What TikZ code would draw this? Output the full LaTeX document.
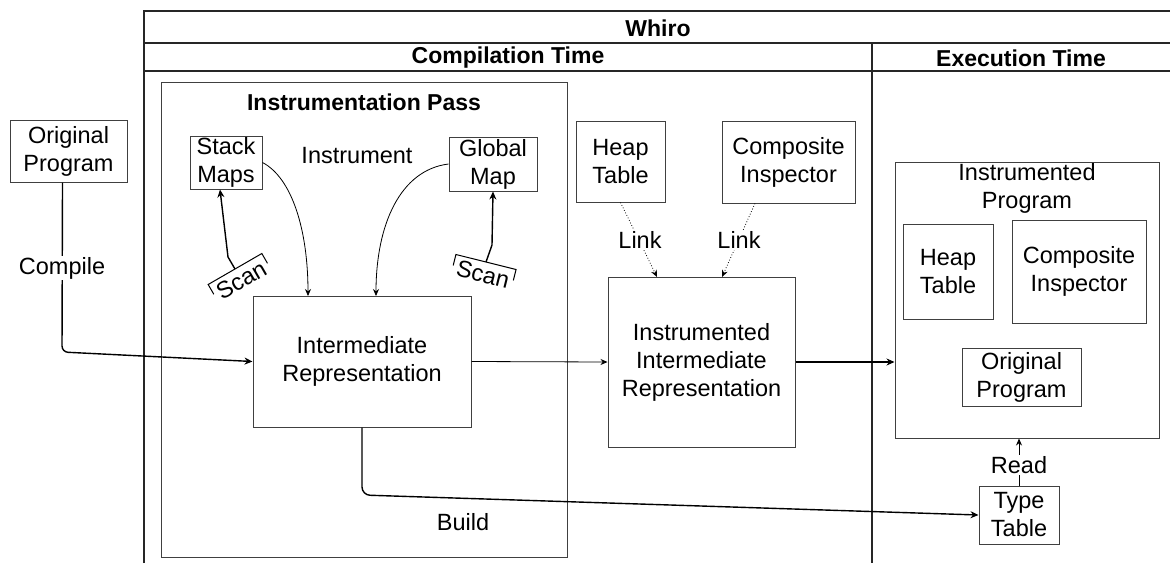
\documentclass[tikz,border=0pt]{standalone}
\usepackage{fontspec}
\setmainfont{Liberation Sans}
\usetikzlibrary{arrows.meta,calc}

\begin{document}
\begin{tikzpicture}[x=1pt,y=-1pt,
  txt/.style={font=\fontsize{23.5}{28}\selectfont, align=center, inner sep=0pt},
  ttl/.style={font=\bfseries\fontsize{23}{28}\selectfont, align=center, inner sep=0pt},
  box/.style={txt, draw=black!75, line width=1pt},
  lbl/.style={txt, fill=white, inner sep=1pt},
  arr/.style={line width=1.4pt, -{Stealth[length=8pt,width=7pt]}},
  thin arr/.style={line width=0.8pt, -{Stealth[length=7pt,width=6pt]}},
  dot arr/.style={line width=0.8pt, dotted, -{Stealth[length=7pt,width=6pt]}},
  frame/.style={line width=1.2pt, draw=black!85},
  scanlbl/.style={txt, inner sep=4pt}
]
\useasboundingbox (0,0) rectangle (1170,563);

% swimlane frame
\draw[frame] (144,563) -- (144,11) -- (1170,11);
\draw[frame] (144,43) -- (1170,43);
\draw[frame] (144,71) -- (1170,71);
\draw[frame] (872,43) -- (872,563);
\node[ttl] (whiro) at (658,28) {Whiro};
\node[ttl] (ctime) at (508,58) {Compilation Time};
\node[ttl] (etime) at (1021,58) {Execution Time};

% instrumentation pass
\node[box, minimum width=406, minimum height=475] (ipass) at (364,319.5) {};
\node[ttl] (iptitle) at (364,102) {Instrumentation Pass};

\node[box, minimum width=117, minimum height=62] (orig) at (68.5,151) {Original\\Program};
\node[box, minimum width=72, minimum height=53] (stack) at (226,162.5) {Stack\\Maps};
\node[box, minimum width=88, minimum height=54] (global) at (493,164) {Global\\Map};
\node[txt] (instr) at (357,156) {Instrument};
\node[box, minimum width=218, minimum height=131] (ir) at (362,361.5) {Intermediate\\Representation};

\node[scanlbl, anchor=north, rotate=30] (scanA) at (235,269) {Scan};
\draw[line width=1pt] ($(scanA.north west)!0.45!(scanA.south west)$) -- (scanA.north west)
  -- (scanA.north east) -- ($(scanA.north east)!0.45!(scanA.south east)$);
\node[scanlbl, anchor=north, rotate=-14] (scanB) at (486,262) {Scan};
\draw[line width=1pt] ($(scanB.north west)!0.45!(scanB.south west)$) -- (scanB.north west)
  -- (scanB.north east) -- ($(scanB.north east)!0.45!(scanB.south east)$);

% runtime pieces linked in at compile time
\node[box, minimum width=89, minimum height=81] (heap) at (620.5,161.5) {Heap\\Table};
\node[box, minimum width=133, minimum height=82] (comp) at (788.5,162) {Composite\\Inspector};
\node[box, minimum width=187, minimum height=170] (iir) at (701.5,362) {Instrumented\\Intermediate\\Representation};

% execution time
\node[box, minimum width=264, minimum height=276] (iprog) at (1027,300) {};
\node[txt] (iptxt) at (1027,188) {Instrumented\\Program};
\node[box, minimum width=90, minimum height=95] (iheap) at (948,271.5) {Heap\\Table};
\node[box, minimum width=134, minimum height=103] (icomp) at (1079,271.5) {Composite\\Inspector};
\node[box, minimum width=119, minimum height=58] (iorig) at (1021.5,377) {Original\\Program};
\node[box, minimum width=80, minimum height=58] (ttable) at (1019,515) {Type\\Table};

% connectors
\draw[arr, rounded corners=6] ([xshift=-6pt]orig.south) -- (62,352) -- (ir.west);
\node[lbl] (compile) at (62,268) {Compile};

\draw[thin arr] (stack.east) .. controls (292,178) and (308,230) .. (308,296);
\draw[thin arr] (global.west) .. controls (400,170) and (376,225) .. (376,296);

\draw[arr] (scanA.north) -- (228,257) -- (stack.south -| 220,0);
\draw[arr] (scanB.north) -- (492,245) -- (global.south);

\draw[thin arr] (ir.east) -- (iir.west);
\draw[arr] (iir.east) -- (iprog.west |- iir.east);

\draw[dot arr] (heap.south) -- (657,277);
\draw[dot arr] (comp.south -| 755,0) -- (722,277);
\node[lbl] (link1) at (640,240) {Link};
\node[lbl] (link2) at (739,240) {Link};

\draw[arr, rounded corners=8] (ir.south) -- (362,495) -- (ttable.west);
\node[txt] (build) at (463,522) {Build};

\draw[thin arr] (ttable.north) -- (iprog.south -| ttable.north);
\node[lbl] (read) at (1019,465) {Read};
\end{tikzpicture}
\end{document}
